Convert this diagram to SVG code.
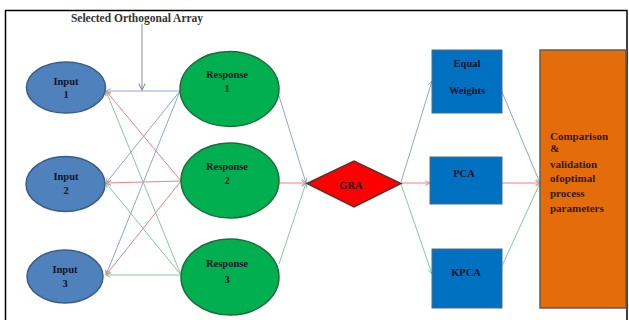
<svg xmlns="http://www.w3.org/2000/svg" width="629" height="320" viewBox="0 0 629 320">
<defs>
<style>
.t{font-family:"Liberation Serif","Times New Roman",serif;font-weight:bold;font-size:10.5px;fill:#141428;text-anchor:middle}
.lbl{font-family:"Liberation Serif","Times New Roman",serif;font-weight:bold;font-size:11.5px;fill:#333;text-anchor:middle}
.o{font-family:"Liberation Serif","Times New Roman",serif;font-weight:bold;font-size:11px;fill:#2e1c0c}
.inp{fill:#4f81bd;stroke:#385d8a;stroke-width:1.5}
.resp{fill:#00b050;stroke:#1f6b3a;stroke-width:1.5}
.box{fill:#0070c0;stroke:#4d6a85;stroke-width:1}
.b{stroke:#8ea6cc;stroke-width:1;fill:none}
.r{stroke:#ee7f86;stroke-width:1;fill:none}
.g{stroke:#86c8a0;stroke-width:1;fill:none}
</style>
<marker id="ab" viewBox="0 0 10 10" refX="9" refY="5" markerWidth="6" markerHeight="6" orient="auto-start-reverse" markerUnits="userSpaceOnUse"><path d="M1,1 L9,5 L1,9" fill="none" stroke="#8ea6cc" stroke-width="1.5"/></marker>
<marker id="ar" viewBox="0 0 10 10" refX="9" refY="5" markerWidth="6" markerHeight="6" orient="auto-start-reverse" markerUnits="userSpaceOnUse"><path d="M1,1 L9,5 L1,9" fill="none" stroke="#ee7f86" stroke-width="1.5"/></marker>
<marker id="ag" viewBox="0 0 10 10" refX="9" refY="5" markerWidth="6" markerHeight="6" orient="auto-start-reverse" markerUnits="userSpaceOnUse"><path d="M1,1 L9,5 L1,9" fill="none" stroke="#86c8a0" stroke-width="1.5"/></marker>
<marker id="ak" viewBox="0 0 10 10" refX="9" refY="5" markerWidth="8" markerHeight="8" orient="auto" markerUnits="userSpaceOnUse"><path d="M1,1 L9,5 L1,9" fill="none" stroke="#8a8a9a" stroke-width="1.3"/></marker>
</defs>
<rect x="0" y="0" width="629" height="320" fill="#fff"/>
<rect x="5.5" y="10.5" width="621.5" height="312" fill="#fff" stroke="#000" stroke-width="1.5"/>

<g id="connectors">
<line class="b" x1="180" y1="91" x2="106" y2="91" marker-end="url(#ab)"/>
<line class="b" x1="180" y1="91" x2="106" y2="183" marker-end="url(#ab)"/>
<line class="b" x1="180" y1="91" x2="106" y2="275" marker-end="url(#ab)"/>
<line class="r" x1="181" y1="181" x2="106" y2="91" marker-end="url(#ar)"/>
<line class="r" x1="181" y1="181" x2="106" y2="183" marker-end="url(#ar)"/>
<line class="r" x1="181" y1="181" x2="106" y2="275" marker-end="url(#ar)"/>
<line class="g" x1="181" y1="275" x2="106" y2="91" marker-end="url(#ag)"/>
<line class="g" x1="181" y1="275" x2="106" y2="183" marker-end="url(#ag)"/>
<line class="g" x1="181" y1="275" x2="106" y2="275" marker-end="url(#ag)"/>
<line x1="142" y1="24" x2="142" y2="90" stroke="#8a8a9a" stroke-width="1" marker-end="url(#ak)"/>
<line class="b" x1="279" y1="96" x2="306" y2="183" marker-end="url(#ab)"/>
<line class="r" x1="279" y1="183" x2="306" y2="183" marker-end="url(#ar)"/>
<line class="g" x1="279" y1="264" x2="306" y2="183" marker-end="url(#ag)"/>
<line class="b" x1="401" y1="182" x2="432" y2="81" marker-end="url(#ab)"/>
<line class="r" x1="401" y1="183" x2="430" y2="183" marker-end="url(#ar)"/>
<line class="g" x1="401" y1="184" x2="432" y2="274" marker-end="url(#ag)"/>
<line class="b" x1="502" y1="92" x2="540" y2="183" marker-end="url(#ab)"/>
<line class="r" x1="502" y1="183" x2="540" y2="183" marker-end="url(#ar)"/>
<line class="g" x1="502" y1="266" x2="540" y2="183" marker-end="url(#ag)"/>
</g>

<g id="label-array">
<text class="lbl" x="137" y="22">Selected Orthogonal Array</text>
</g>

<g id="input1">
<ellipse class="inp" cx="66" cy="87.5" rx="39.5" ry="25.5"/>
<text class="t" x="66" y="85">Input</text>
<text class="t" x="66" y="98">1</text>
</g>
<g id="input2">
<ellipse class="inp" cx="65.5" cy="184" rx="39.5" ry="27.5"/>
<text class="t" x="66" y="180">Input</text>
<text class="t" x="66" y="194">2</text>
</g>
<g id="input3">
<ellipse class="inp" cx="65" cy="276.5" rx="38" ry="26.5"/>
<text class="t" x="65" y="273">Input</text>
<text class="t" x="65" y="287">3</text>
</g>

<g id="response1">
<ellipse class="resp" cx="229.5" cy="89" rx="49.5" ry="37.5"/>
<text class="t" x="227" y="78">Response</text>
<text class="t" x="227" y="92">1</text>
</g>
<g id="response2">
<ellipse class="resp" cx="230" cy="180.5" rx="49" ry="37.5"/>
<text class="t" x="227" y="170">Response</text>
<text class="t" x="227" y="184">2</text>
</g>
<g id="response3">
<ellipse class="resp" cx="230" cy="277" rx="49" ry="38"/>
<text class="t" x="227" y="267">Response</text>
<text class="t" x="227" y="283">3</text>
</g>

<g id="gra">
<polygon points="307,183.5 354,161 401,183.5 354,207" fill="#ff0000" stroke="#5a3030" stroke-width="1.5"/>
<text class="t" x="351" y="189">GRA</text>
</g>

<g id="equal-weights">
<rect class="box" x="432" y="50" width="70" height="63"/>
<text class="t" x="467" y="67">Equal</text>
<text class="t" x="467" y="94">Weights</text>
</g>
<g id="pca">
<rect class="box" x="430" y="157" width="72" height="47"/>
<text class="t" x="464" y="177">PCA</text>
</g>
<g id="kpca">
<rect class="box" x="432" y="249" width="70" height="59"/>
<text class="t" x="466" y="276">KPCA</text>
</g>

<g id="comparison">
<rect x="540" y="50" width="86" height="258" fill="#e46c0a" stroke="#6b5a4a" stroke-width="1.5"/>
<text class="o" x="550" y="140">Comparison</text>
<text class="o" x="550" y="152">&amp;</text>
<text class="o" x="550" y="168">validation</text>
<text class="o" x="550" y="182">ofoptimal</text>
<text class="o" x="550" y="197">process</text>
<text class="o" x="550" y="212">parameters</text>
</g>
</svg>
